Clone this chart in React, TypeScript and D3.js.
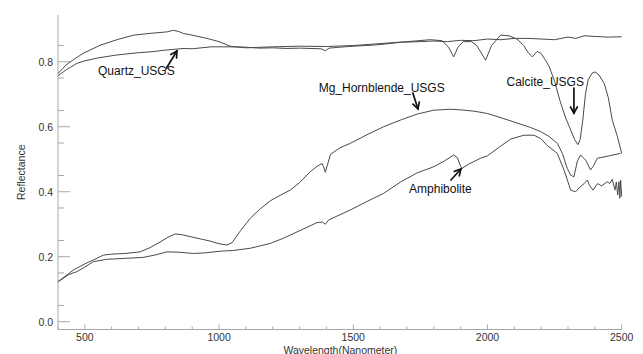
import React from "react";
import * as d3 from "d3";

const W = 643;
const H = 354;

// Spectra: [wavelength nm, reflectance]
const quartz: [number, number][] = [
  [400, 0.757], [430, 0.775], [470, 0.795], [500, 0.803], [550, 0.812], [620, 0.821], [700, 0.828],
  [750, 0.831], [800, 0.836], [870, 0.841], [900, 0.840], [970, 0.846], [1040, 0.846], [1100, 0.845],
  [1150, 0.842], [1200, 0.843], [1250, 0.841], [1300, 0.842], [1380, 0.840], [1396, 0.834], [1410, 0.842],
  [1450, 0.845], [1500, 0.848], [1550, 0.850], [1600, 0.853], [1676, 0.860], [1750, 0.862], [1800, 0.864],
  [1850, 0.862], [1900, 0.866], [1950, 0.865], [2000, 0.870], [2050, 0.868], [2100, 0.872], [2150, 0.872],
  [2200, 0.870], [2250, 0.868], [2300, 0.876], [2330, 0.872], [2360, 0.880], [2400, 0.878], [2450, 0.876],
  [2500, 0.877],
];

const calcite: [number, number][] = [
  [400, 0.764], [430, 0.790], [460, 0.808], [494, 0.826], [557, 0.851], [620, 0.868], [681, 0.882],
  [750, 0.888], [806, 0.892], [830, 0.897], [850, 0.893], [868, 0.887], [900, 0.882], [955, 0.872],
  [1000, 0.862], [1041, 0.848], [1100, 0.843], [1200, 0.846], [1300, 0.848], [1400, 0.847], [1500, 0.850],
  [1600, 0.856], [1700, 0.862], [1787, 0.868], [1830, 0.865], [1855, 0.845], [1874, 0.815], [1890, 0.845],
  [1910, 0.862], [1940, 0.862], [1960, 0.850], [1993, 0.805], [2015, 0.850], [2049, 0.882], [2080, 0.880],
  [2110, 0.870], [2135, 0.850], [2150, 0.830], [2167, 0.815], [2185, 0.832], [2200, 0.825], [2216, 0.805],
  [2230, 0.785], [2250, 0.740], [2270, 0.680], [2290, 0.630], [2310, 0.590], [2325, 0.560], [2337, 0.545],
  [2345, 0.560], [2355, 0.620], [2365, 0.700], [2375, 0.745], [2390, 0.765], [2400, 0.769], [2415, 0.760],
  [2435, 0.733], [2450, 0.690], [2465, 0.620], [2484, 0.570], [2500, 0.518],
];

const hornblende: [number, number][] = [
  [400, 0.123], [457, 0.159], [500, 0.178], [532, 0.190], [569, 0.205], [600, 0.208], [650, 0.210],
  [706, 0.215], [743, 0.228], [780, 0.245], [810, 0.260], [836, 0.270], [860, 0.268], [892, 0.262],
  [930, 0.255], [967, 0.248], [1000, 0.240], [1029, 0.236], [1048, 0.243], [1080, 0.280], [1116, 0.318],
  [1150, 0.345], [1191, 0.372], [1230, 0.390], [1265, 0.405], [1300, 0.428], [1340, 0.462], [1365, 0.478],
  [1384, 0.487], [1390, 0.475], [1396, 0.460], [1403, 0.480], [1415, 0.515], [1450, 0.535], [1489, 0.549],
  [1550, 0.575], [1613, 0.600], [1680, 0.622], [1738, 0.639], [1800, 0.651], [1862, 0.654], [1900, 0.652],
  [1950, 0.648], [1999, 0.641], [2061, 0.625], [2123, 0.608], [2160, 0.598], [2198, 0.585], [2230, 0.570],
  [2260, 0.549], [2279, 0.518], [2297, 0.472], [2310, 0.451], [2322, 0.446], [2335, 0.495], [2347, 0.513],
  [2366, 0.497], [2384, 0.467], [2395, 0.480], [2409, 0.503], [2450, 0.510], [2496, 0.518],
];

const amphibolite: [number, number][] = [
  [400, 0.123], [440, 0.145], [470, 0.154], [500, 0.168], [532, 0.185], [581, 0.192], [650, 0.195],
  [718, 0.198], [760, 0.205], [806, 0.215], [850, 0.214], [905, 0.210], [950, 0.212], [992, 0.216],
  [1020, 0.218], [1050, 0.219], [1116, 0.226], [1191, 0.241], [1240, 0.257], [1300, 0.280], [1365, 0.305],
  [1385, 0.307], [1396, 0.300], [1408, 0.313], [1489, 0.344], [1551, 0.370], [1613, 0.395], [1676, 0.430],
  [1738, 0.458], [1800, 0.477], [1840, 0.495], [1874, 0.513], [1888, 0.505], [1900, 0.478], [1905, 0.472],
  [1930, 0.485], [1974, 0.503], [1999, 0.510], [2040, 0.535], [2086, 0.562], [2136, 0.574], [2173, 0.574],
  [2198, 0.564], [2223, 0.542], [2260, 0.518], [2285, 0.467], [2300, 0.430], [2310, 0.405], [2328, 0.400],
  [2345, 0.415], [2360, 0.425], [2372, 0.436], [2380, 0.420], [2393, 0.405], [2410, 0.425], [2425, 0.418],
  [2446, 0.431], [2455, 0.425], [2465, 0.438], [2475, 0.405], [2480, 0.430], [2485, 0.390], [2490, 0.431],
  [2493, 0.380], [2496, 0.436], [2500, 0.385],
];

const spectra = [quartz, calcite, hornblende, amphibolite];

const xMajorTicks = [500, 1000, 1500, 2000, 2500];
const yMajorTicks = [0.0, 0.2, 0.4, 0.6, 0.8];

// annotation: label, text anchor (nm, refl), arrow tail and head (nm, refl)
const labels = ["Quartz_USGS", "Mg_Hornblende_USGS", "Calcite_USGS", "Amphibolite"];
const labelPos: [number, number][] = [[549, 0.759], [1371, 0.707], [2071, 0.725], [1708, 0.395]];
const arrowTail: [number, number][] = [[802, 0.778], [1722, 0.704], [2322, 0.719], [1864, 0.436]];
const arrowHead: [number, number][] = [[843, 0.833], [1741, 0.655], [2322, 0.642], [1901, 0.470]];

const font = "'Liberation Sans', Arial, Helvetica, sans-serif";

export default function App() {
  const x = d3.scaleLinear().domain([400, 2500]).range([58, 621.7]);
  const y = d3.scaleLinear().domain([-0.024, 0.944]).range([329.5, 15]);
  const line = d3
    .line<[number, number]>()
    .x((d) => x(d[0]))
    .y((d) => y(d[1]));

  const xMinor = d3.range(400, 2501, 100).filter((v) => !xMajorTicks.includes(v));
  const yMinor = d3.range(0.05, 0.95, 0.1);
  const axisColor = "#a8a8a8";
  const y0 = y.range()[0];
  const x0 = x.range()[0];

  const arrow = (t: [number, number], h: [number, number], i: number) => {
    const x1 = x(t[0]), y1 = y(t[1]), x2 = x(h[0]), y2 = y(h[1]);
    const ang = Math.atan2(y2 - y1, x2 - x1);
    const L = 7, a = 0.5;
    const p1 = [x2 - L * Math.cos(ang - a), y2 - L * Math.sin(ang - a)];
    const p2 = [x2 - L * Math.cos(ang + a), y2 - L * Math.sin(ang + a)];
    return (
      <g key={"a" + i} stroke="#111" strokeWidth={1.7} fill="none" strokeLinecap="round">
        <line x1={x1} y1={y1} x2={x2} y2={y2} />
        <polyline points={`${p1[0]},${p1[1]} ${x2},${y2} ${p2[0]},${p2[1]}`} />
      </g>
    );
  };

  return (
    <svg
      width={W}
      height={H}
      style={{ position: "absolute", left: 0, top: 0, background: "#fff" }}
      fontFamily={font}
    >
      {/* axes */}
      <line x1={x0} x2={x(2500)} y1={y0} y2={y0} stroke={axisColor} />
      <line x1={x0} x2={x0} y1={y0} y2={y.range()[1]} stroke={axisColor} />
      {xMajorTicks.map((t) => (
        <g key={"xt" + t}>
          <line x1={x(t)} x2={x(t)} y1={y0} y2={y0 - 5} stroke={axisColor} />
          <text x={x(t)} y={341} textAnchor="middle" fontSize={10.5} fill="#333">
            {t}
          </text>
        </g>
      ))}
      {xMinor.map((t) => (
        <line key={"xm" + t} x1={x(t)} x2={x(t)} y1={y0} y2={y0 - 3} stroke={axisColor} />
      ))}
      {yMajorTicks.map((t) => (
        <g key={"yt" + t}>
          <line x1={x0} x2={x0 + 12} y1={y(t)} y2={y(t)} stroke={axisColor} />
          <text x={53} y={y(t) + 3.8} textAnchor="end" fontSize={10.5} fill="#333">
            {t.toFixed(1)}
          </text>
        </g>
      ))}
      {yMinor.map((t) => (
        <line key={"ym" + t} x1={x0} x2={x0 + 6} y1={y(t)} y2={y(t)} stroke={axisColor} />
      ))}
      <text
        transform={`translate(25,${y(0.46)}) rotate(-90)`}
        textAnchor="middle"
        fontSize={10.5}
        fill="#333"
      >
        Reflectance
      </text>
      <text x={x(1452)} y={353.5} textAnchor="middle" fontSize={10.5} fill="#333">
        Wavelength(Nanometer)
      </text>

      {/* spectra */}
      {spectra.map((s, i) => (
        <path key={"s" + i} d={line(s) || ""} fill="none" stroke="#4a4a4a" strokeWidth={1} />
      ))}

      {/* annotations */}
      {labels.map((l, i) => (
        <text key={"l" + i} x={x(labelPos[i][0])} y={y(labelPos[i][1])} fontSize={12} fill="#111">
          {l}
        </text>
      ))}
      {labels.map((_, i) => arrow(arrowTail[i], arrowHead[i], i))}
    </svg>
  );
}
